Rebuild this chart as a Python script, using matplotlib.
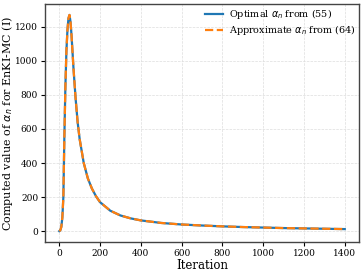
import matplotlib
matplotlib.use("Agg")
import matplotlib.pyplot as plt

iterations = [0, 5, 10, 15, 20, 25, 30, 35, 40, 45, 50, 55, 60, 70, 80, 90, 100, 120,
              140, 160, 180, 200, 250, 300, 350, 400, 500, 600, 700, 800, 900, 1000,
              1100, 1200, 1300, 1400]
optimal = [0, 5, 25, 80, 200, 560, 850, 1060, 1180, 1250, 1270, 1230, 1150, 950, 780,
           640, 540, 400, 310, 250, 205, 170, 120, 92, 75, 63, 48, 39, 33, 28, 24, 21,
           18, 16, 14, 12]
approximate = list(optimal)

plt.rcParams['font.family'] = ['DejaVu Serif']
fig, ax = plt.subplots(figsize=(3.63, 2.74), dpi=100)
ax.plot(iterations, optimal, color='#1f77b4', lw=1.6, label=r'Optimal $\alpha_n$ from (55)')
ax.plot(iterations, approximate, color='#ff7f0e', lw=1.6, ls='--', label=r'Approximate $\alpha_n$ from (64)')
ax.set_xlabel('Iteration', fontsize=8.5, labelpad=0.5)
ax.set_ylabel(r'Computed value of $\alpha_n$ for EnKI-MC (I)', fontsize=8.0)
ax.yaxis.set_label_coords(-0.094, 0.5)
ax.set_xticks([0, 200, 400, 600, 800, 1000, 1200, 1400])
ax.set_yticks([0, 200, 400, 600, 800, 1000, 1200])
ax.tick_params(labelsize=6.5, length=3, pad=2)
ax.grid(True, ls='--', lw=0.5, color='#dddddd')
for s in ax.spines.values():
    s.set_color('#444444')
    s.set_linewidth(1.0)
ax.legend(fontsize=6.9, frameon=False, loc='upper right', bbox_to_anchor=(1.0, 1.0),
          handlelength=1.8, handletextpad=0.7, labelspacing=0.2,
          borderaxespad=0.0, borderpad=0.3)
fig.subplots_adjust(left=0.124, right=0.989, top=0.985, bottom=0.117)
fig.savefig('out.png', dpi=100)
